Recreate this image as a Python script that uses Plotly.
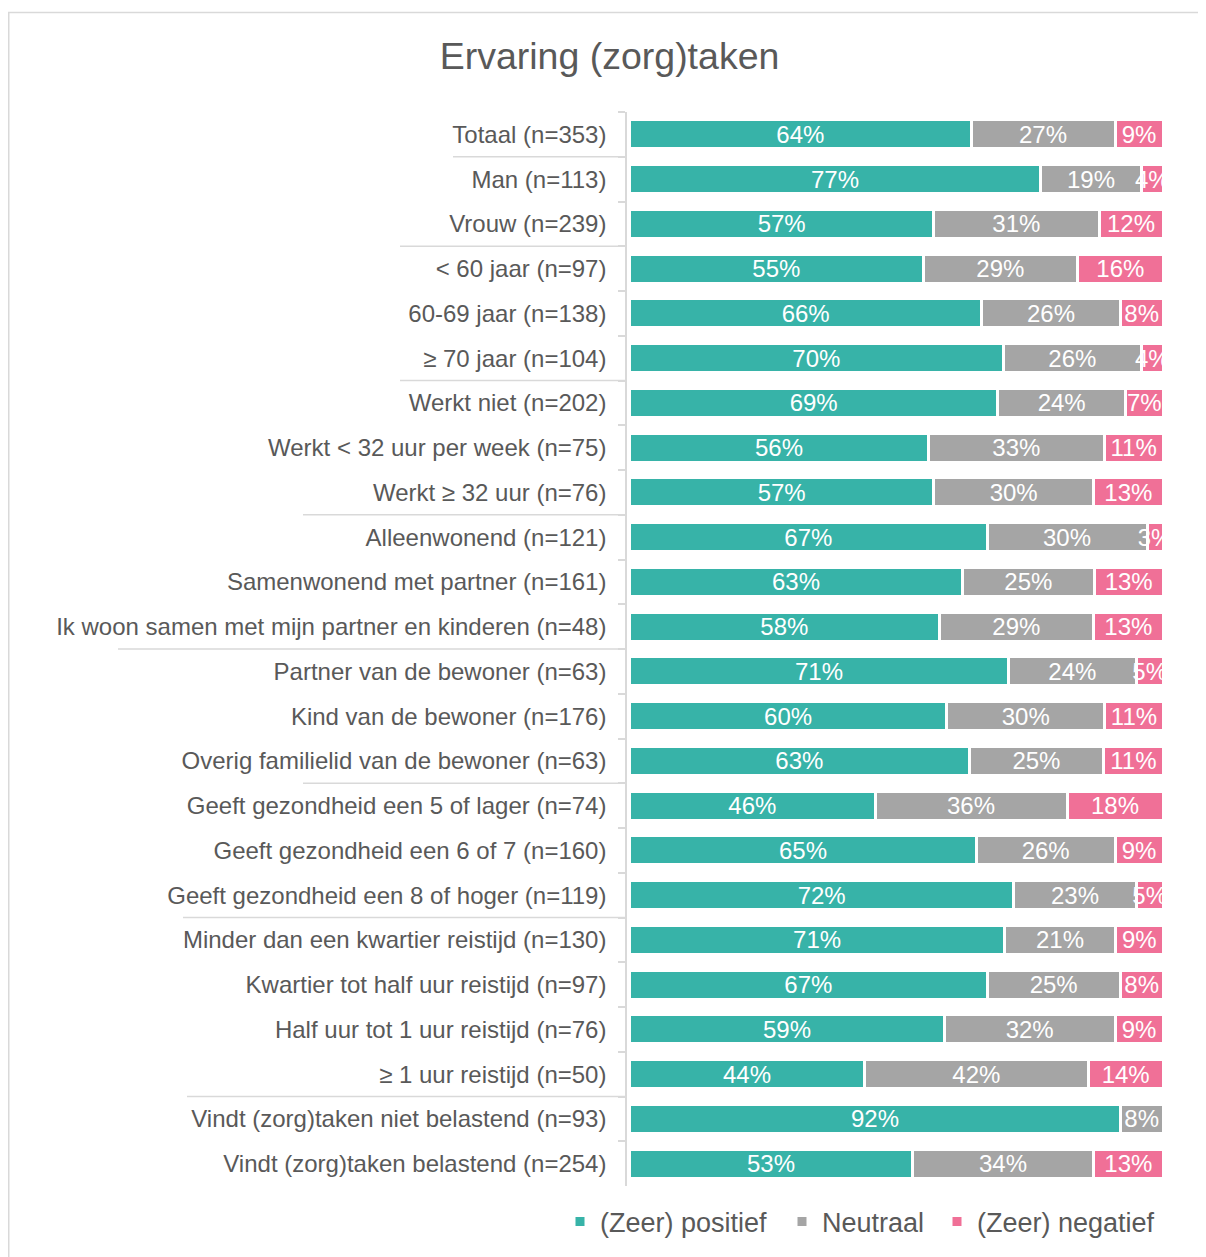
import plotly.graph_objects as go

categories = [
    "Totaal (n=353)", "Man (n=113)", "Vrouw (n=239)",
    "< 60 jaar (n=97)", "60-69 jaar (n=138)", "≥ 70 jaar (n=104)",
    "Werkt niet (n=202)", "Werkt < 32 uur per week (n=75)", "Werkt ≥ 32 uur (n=76)",
    "Alleenwonend (n=121)", "Samenwonend met partner (n=161)",
    "Ik woon samen met mijn partner en kinderen (n=48)",
    "Partner van de bewoner (n=63)", "Kind van de bewoner (n=176)",
    "Overig familielid van de bewoner (n=63)",
    "Geeft gezondheid een 5 of lager (n=74)", "Geeft gezondheid een 6 of 7 (n=160)",
    "Geeft gezondheid een 8 of hoger (n=119)",
    "Minder dan een kwartier reistijd (n=130)", "Kwartier tot half uur reistijd (n=97)",
    "Half uur tot 1 uur reistijd (n=76)", "≥ 1 uur reistijd (n=50)",
    "Vindt (zorg)taken niet belastend (n=93)", "Vindt (zorg)taken belastend (n=254)",
]
positief = [64, 77, 57, 55, 66, 70, 69, 56, 57, 67, 63, 58, 71, 60, 63, 46, 65, 72, 71, 67, 59, 44, 92, 53]
neutraal = [27, 19, 31, 29, 26, 26, 24, 33, 30, 30, 25, 29, 24, 30, 25, 36, 26, 23, 21, 25, 32, 42, 8, 34]
negatief = [9, 4, 12, 16, 8, 4, 7, 11, 13, 3, 13, 13, 5, 11, 11, 18, 9, 5, 9, 8, 9, 14, 0, 13]
series_names = ["(Zeer) positief", "Neutraal", "(Zeer) negatief"]
series_colors = ["#37B3A8", "#A5A5A5", "#F07097"]
title_text = "Ervaring (zorg)taken"

# group separators: index after which a group ends, and left page-pixel extent of the line
group_ends = [0, 2, 5, 8, 11, 14, 17, 21]
group_line_left_px = [453, 400, 400, 303, 118, 303, 183, 187]
# left page-pixel of each legend entry box (text starts 40px further right)
legend_left_px = [560, 782, 937]

# page is rendered with an 8px body margin; figure is shifted accordingly
OFF = 8
W, H = 1206 - OFF, 1257 - OFF


def fx(px):
    return px - OFF


def fy(py):
    return py - OFF


PL, PR, PT, PB = fx(627), fx(1163), fy(112), fy(1186)
ML, MR, MT, MB = PL, W - PR, PT, H - PB
PW = PR - PL
PH = PB - PT

FONT = "Liberation Sans, Arial, sans-serif"
TXT = "#595959"

ylabels = [c.replace("<", "&lt;") for c in categories]
legend_ids = ["legend", "legend2", "legend3"]

fig = go.Figure()
for name, vals, col, lid in zip(series_names, [positief, neutraal, negatief], series_colors, legend_ids):
    fig.add_trace(go.Bar(
        y=ylabels, x=vals, name=name, orientation="h",
        marker=dict(color=col, line=dict(color="white", width=3)),
        text=[f"{v}%" if v > 0 else "" for v in vals],
        texttemplate="%{text}",
        textposition="inside", insidetextanchor="middle",
        constraintext="none", textangle=0,
        textfont=dict(color="white", size=24, family=FONT),
        cliponaxis=True,
        hoverinfo="skip",
        legend=lid,
    ))

shapes = []
for idx, lpx in zip(group_ends, group_line_left_px):
    shapes.append(dict(
        type="line", xref="paper", yref="y",
        x0=(fx(lpx) - PL) / PW, x1=0, y0=idx + 0.5, y1=idx + 0.5,
        line=dict(color="#D9D9D9", width=1.5),
    ))
# outer chart border (only top and left visible in the frame)
shapes.append(dict(
    type="rect", xref="paper", yref="paper",
    x0=(0.75 - PL) / PW, x1=(W + 5 - PL) / PW,
    y0=-(H + 5 - PB) / PH, y1=(PB - fy(12.5)) / PH,
    line=dict(color="#D9D9D9", width=1.5), fillcolor="rgba(0,0,0,0)",
))

legends = {}
for lid, lpx in zip(legend_ids, legend_left_px):
    legends[lid] = dict(
        orientation="h", xref="paper", yref="paper",
        x=(fx(lpx) - PL) / PW, xanchor="left",
        y=-(fy(1222) - PB) / PH, yanchor="middle",
        font=dict(size=27, color=TXT, family=FONT),
        itemwidth=30, bgcolor="rgba(0,0,0,0)",
    )

fig.update_layout(
    width=W, height=H,
    barmode="stack", barnorm="percent", bargap=0.35,
    margin=dict(l=ML, r=MR, t=MT, b=MB, autoexpand=False),
    paper_bgcolor="white", plot_bgcolor="white",
    font=dict(family=FONT, color=TXT),
    title=dict(text=title_text, font=dict(size=37.5, color=TXT, family=FONT),
               x=fx(609.5) / W, xanchor="center", xref="container",
               y=1 - fy(56) / H, yanchor="middle", yref="container"),
    xaxis=dict(range=[-0.5, 100], visible=False, fixedrange=True),
    yaxis=dict(
        autorange="reversed", type="category",
        showline=True, linecolor="#D9D9D9", linewidth=1.5,
        ticks="outside", tickson="boundaries", ticklen=7, tickcolor="#D9D9D9", tickwidth=1.5,
        ticklabelstandoff=14,
        tickfont=dict(size=24, color=TXT, family=FONT),
        showgrid=False, zeroline=False,
    ),
    shapes=shapes,
    showlegend=True,
    **legends,
)

fig.write_html("out.html")
